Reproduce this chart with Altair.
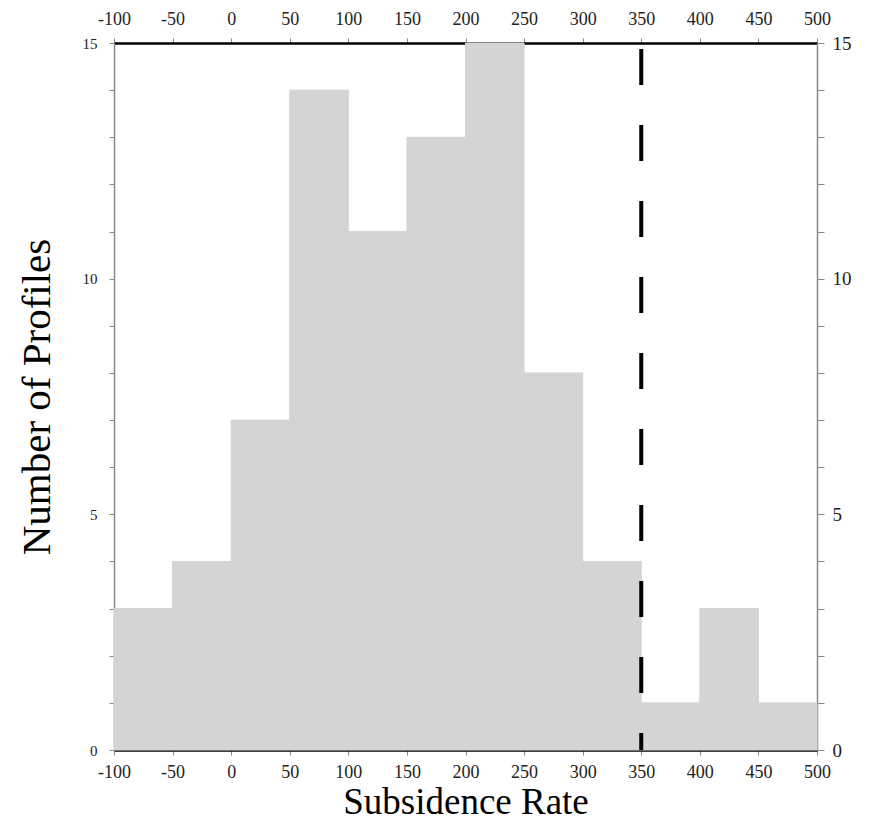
import altair as alt
import pandas as pd

bin_start = [-100, -50, 0, 50, 100, 150, 200, 250, 300, 350, 400, 450]
bin_end = [-50, 0, 50, 100, 150, 200, 250, 300, 350, 400, 450, 500]
counts = [3, 4, 7, 14, 11, 13, 15, 8, 4, 1, 3, 1]
x_ticks = [-100, -50, 0, 50, 100, 150, 200, 250, 300, 350, 400, 450, 500]
y_ticks = list(range(0, 16))
threshold = [350]

bars_df = pd.DataFrame({"start": bin_start, "end": bin_end, "count": counts})
rule_df = pd.DataFrame({"xv": threshold, "ytop": [15], "ybot": [0]})

FONT = "Liberation Serif"
xdom = alt.Scale(domain=[-100, 500], nice=False, zero=False)
ydom = alt.Scale(domain=[0, 15], nice=False)
label_expr = "datum.value % 5 == 0 ? datum.label : ''"
x_label_expr = "toString(datum.value)"

bars = alt.Chart(bars_df).mark_rect(
    color="#d4d4d4", stroke="#d4d4d4", strokeWidth=1
).encode(
    x=alt.X("start:Q", scale=xdom, axis=alt.Axis(
        orient="bottom", values=x_ticks, title="Subsidence Rate",
        labelExpr=x_label_expr,
        labelFont=FONT, labelFontSize=18, labelColor="#222",
        labelPadding=8, tickSize=5, tickColor="#888", tickWidth=1,
        domainColor="black", domainWidth=2.5,
        titleFont=FONT, titleFontSize=37, titleFontWeight="normal",
        titleColor="black", titlePadding=3, grid=False, labelFlush=False)),
    x2="end:Q",
    y=alt.Y("count:Q", scale=ydom, axis=alt.Axis(
        orient="left", values=y_ticks, labelExpr=label_expr,
        title="Number of Profiles",
        labelFont=FONT, labelFontSize=15, labelColor="#222",
        labelPadding=12, tickSize=5, tickColor="#888", tickWidth=1,
        domainColor="#888", domainWidth=1.5,
        titleFont=FONT, titleFontSize=41, titleFontWeight="normal",
        titleColor="black", titlePadding=24, grid=False, labelFlush=False)),
    y2=alt.datum(0),
)

rule = alt.Chart(rule_df).mark_rule(
    color="black", strokeWidth=4, strokeDash=[36, 40], strokeDashOffset=70,
    strokeCap="butt"
).encode(
    x=alt.X("xv:Q", scale=xdom, axis=alt.Axis(
        orient="top", values=x_ticks, title=None, labelExpr=x_label_expr,
        labelFont=FONT, labelFontSize=18, labelColor="#222",
        labelPadding=10, tickSize=5, tickColor="#888", tickWidth=1,
        domainColor="black", domainWidth=2.5, grid=False, labelFlush=False)),
    y=alt.Y("ytop:Q", scale=ydom, axis=alt.Axis(
        orient="right", values=y_ticks, labelExpr=label_expr, title=None,
        labelFont=FONT, labelFontSize=19, labelColor="#222",
        labelPadding=8, tickSize=7, tickColor="#888", tickWidth=1,
        domainColor="#888", domainWidth=1.5, grid=False, labelFlush=False)),
    y2="ybot:Q",
)

chart = alt.layer(bars, rule).resolve_scale(
    x="independent", y="independent"
).properties(
    width=703, height=707,
    autosize=alt.AutoSizeParams(type="none"),
    padding={"left": 114, "top": 43, "right": 59, "bottom": 80},
).configure_view(stroke=None).configure(background="white")

chart.save("out.html", embed_options={"renderer": "svg", "actions": False})
